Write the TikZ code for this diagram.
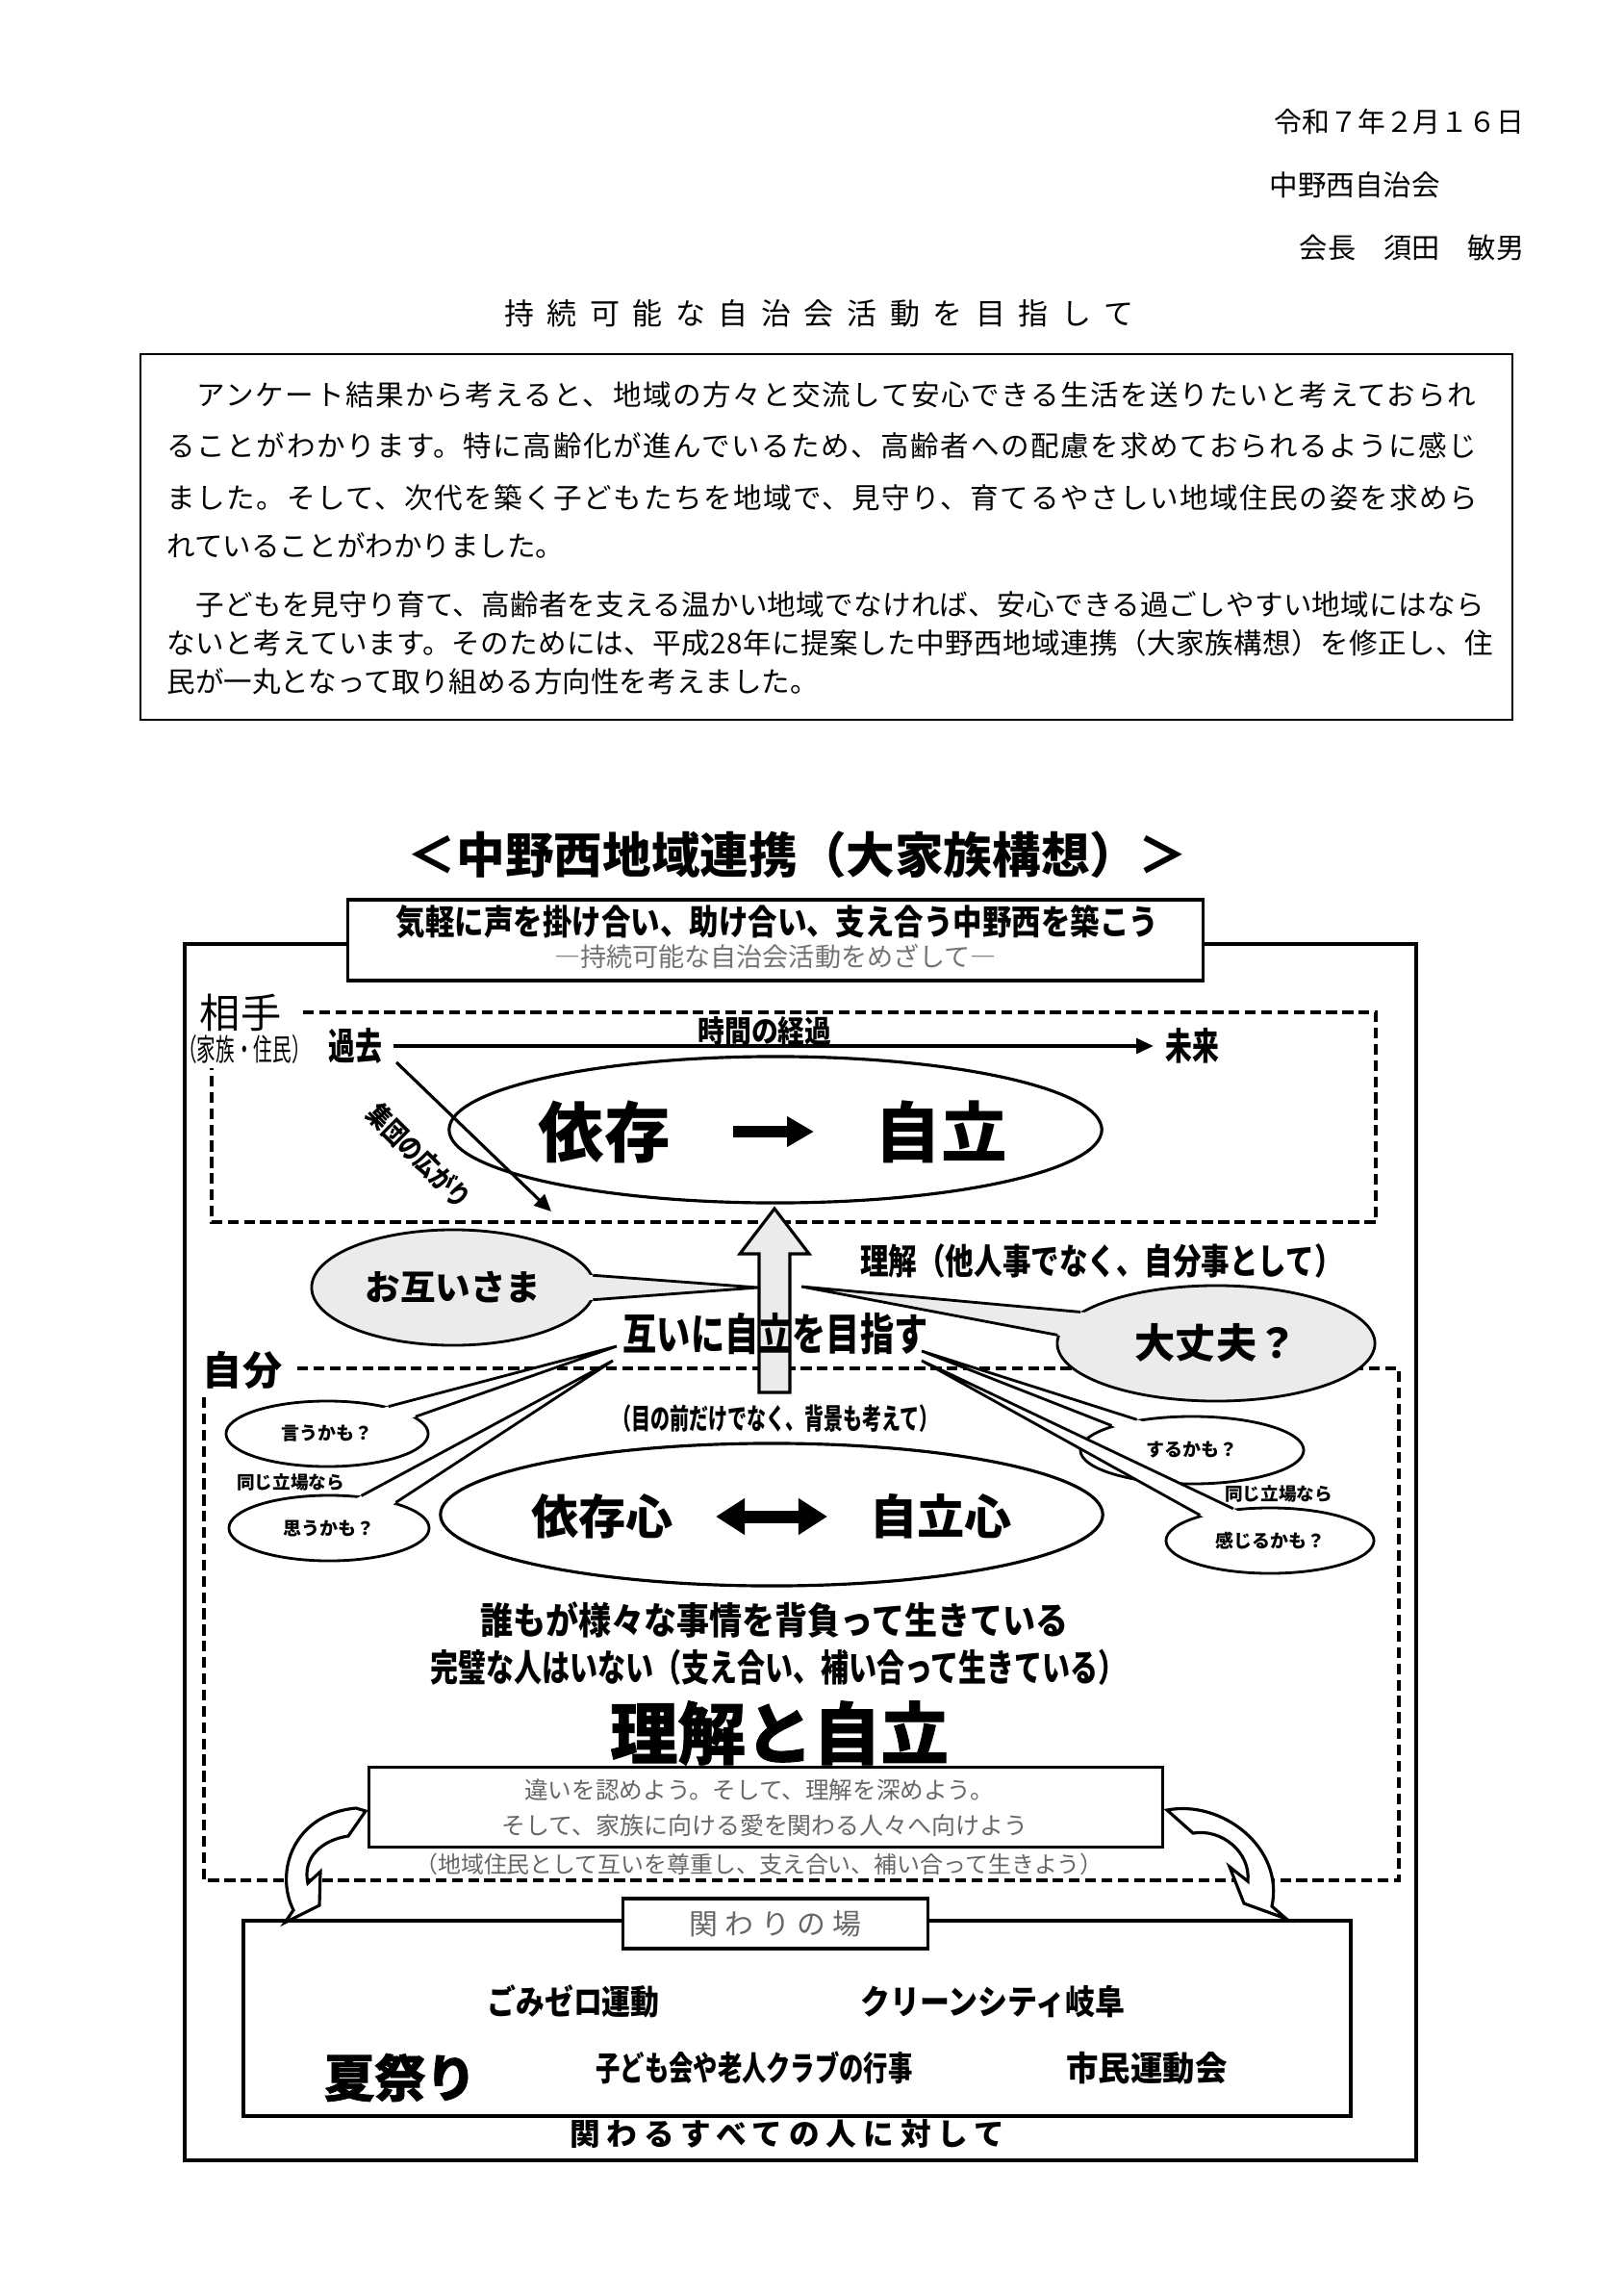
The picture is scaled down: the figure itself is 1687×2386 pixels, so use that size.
\documentclass[tikz,border=0pt]{standalone}
\usepackage{fontspec}
\usepackage{graphicx}
\usetikzlibrary{shapes.geometric,arrows.meta,calc}
\setmainfont{Noto Sans CJK JP}
\newfontfamily\heavyfont{Noto Sans CJK JP}[FakeBold=1.2]
\newcommand{\fsz}[1]{\fontsize{#1}{#1}\selectfont}
\newcommand{\squeeze}[2]{\scalebox{#1}[1]{#2}}
\tikzset{
  boxline/.style={draw,line width=0.9pt},
  dashbox/.style={draw,line width=0.9pt,dash pattern=on 3.2pt off 1.6pt},
  bubble/.style={ellipse,draw,line width=0.8pt,fill=white,inner sep=0pt},
  dotbubble/.style={bubble,fill=black!8},
  tail/.style={line width=0.8pt,line join=miter},
  gothic/.style={font=\bfseries\fsz{#1}},
  mincho/.style={font=\fsz{#1}},
  soft/.style={text=black!60},
  hollow/.style={draw,line width=0.9pt,fill=#1},
}
\begin{document}
\begin{tikzpicture}[x=0.01cm,y=-0.01cm]
\useasboundingbox (0,0) rectangle (1687,2386);
\fill[white] (0,0) rectangle (1687,2386);
% header
\node[mincho=8.2,anchor=east,inner sep=0pt] (date) at (1585,127) {令和７年２月１６日};
\node[mincho=8.4,anchor=west,inner sep=0pt] (assoc) at (1319,192) {中野西自治会};
\node[mincho=8.3,anchor=east,inner sep=0pt] (chair) at (1585,257) {会長　須田　敏男};
\node[mincho=8.8] (heading) at (851,326) {\addfontfeatures{LetterSpace=44}持続可能な自治会活動を目指して};
% introduction
\node[draw,line width=0.6pt,minimum width=14.25cm,minimum height=3.80cm] (intro) at (859,558) {};
\node[mincho=8.4,anchor=west,inner sep=0pt] (introA) at (173,410) {\addfontfeatures{LetterSpace=5.3}　アンケート結果から考えると、地域の方々と交流して安心できる生活を送りたいと考えておられ};
\node[mincho=8.4,anchor=west,inner sep=0pt] (introB) at (173,463) {\addfontfeatures{LetterSpace=5.3}ることがわかります。特に高齢化が進んでいるため、高齢者への配慮を求めておられるように感じ};
\node[mincho=8.4,anchor=west,inner sep=0pt] (introC) at (173,517) {\addfontfeatures{LetterSpace=5.3}ました。そして、次代を築く子どもたちを地域で、見守り、育てるやさしい地域住民の姿を求めら};
\node[mincho=8.4,anchor=west,inner sep=0pt] (introD) at (173,567) {れていることがわかりました。};
\node[mincho=8.4,anchor=west,inner sep=0pt] (introE) at (173,628) {\addfontfeatures{LetterSpace=1}　子どもを見守り育て、高齢者を支える温かい地域でなければ、安心できる過ごしやすい地域にはなら};
\node[mincho=8.4,anchor=west,inner sep=0pt] (introF) at (173,668) {\addfontfeatures{LetterSpace=1.5}ないと考えています。そのためには、平成28年に提案した中野西地域連携（大家族構想）を修正し、住};
\node[mincho=8.4,anchor=west,inner sep=0pt] (introG) at (173,708) {民が一丸となって取り組める方向性を考えました。};
% diagram title and frame
\node[gothic=14.4] (maptitle) at (829,888) {＜中野西地域連携（大家族構想）＞};
\draw[boxline,line width=1pt] (192,981) rectangle (1472,2245);
\node[boxline,fill=white,minimum width=8.89cm,minimum height=0.84cm] (motto) at (806,977) {};
\node[gothic=10.2] (mottoA) at (808,958) {\squeeze{0.85}{気軽に声を掛け合い、助け合い、支え合う中野西を築こう}};
\node[mincho=7.7,text=black!55] (mottoB) at (806,994) {―持続可能な自治会活動をめざして―};
% partner area
\draw[dashbox] (315,1052) -- (1430,1052) -- (1430,1270) -- (220,1270) -- (220,1110);
\node[mincho=12] (partner) at (250,1052) {相手};
\node[mincho=9] (partnerSub) at (254,1090) {\squeeze{0.62}{（家族・住民）}};
\node[gothic=11] (past) at (369,1087) {\squeeze{0.72}{過去}};
\node[gothic=11] (future) at (1239,1087) {\squeeze{0.72}{未来}};
\node[gothic=9] (elapse) at (795,1071) {\squeeze{0.88}{時間の経過}};
\draw[line width=0.9pt,-{Triangle[length=5pt,width=4.5pt]}] (past) -- (future);
\node[ellipse,draw,line width=0.9pt,minimum width=6.78cm,minimum height=1.52cm] (growth) at (806,1174) {};
\node[gothic=19.5] (depend) at (628,1176) {依存};
\node[gothic=19.5] (stand) at (978,1176) {自立};
\coordinate (growthA) at (762,1176);
\coordinate (growthB) at (846,1176);
\draw[line width=0.12cm,-{Triangle[length=0.28cm,width=0.30cm]}] (growthA) -- (growthB);
\coordinate (spreadS) at (412,1104);
\coordinate (spreadE) at (573,1259);
\draw[line width=0.9pt,-{Triangle[length=5pt,width=4.5pt]}] (spreadS) -- (spreadE);
\node[gothic=8,rotate=-45] (spread) at (436,1201) {\squeeze{0.82}{集団の広がり}};
% self area
\draw[dashbox] (309,1422) -- (1454,1422) -- (1454,1954) -- (212,1954) -- (212,1447);
\node[gothic=11.7] (self) at (252,1424) {自分};
% rising arrow
\draw[hollow=black!8] (789,1447) -- (789,1303) -- (769,1303) -- (805,1256) -- (841,1303) -- (821,1303) -- (821,1447) -- cycle;
% speech bubbles
\node[dotbubble,minimum width=2.94cm,minimum height=1.20cm,gothic=10.4] (mutualB) at (471,1338) {お互いさま};
\node[dotbubble,minimum width=3.30cm,minimum height=1.20cm,gothic=12] (okB) at (1264,1396) {大丈夫？};
\node[bubble,minimum width=2.10cm,minimum height=0.68cm,gothic=5.4] (sayB) at (340,1490) {言うかも？};
\node[bubble,minimum width=2.08cm,minimum height=0.68cm,gothic=5.4] (thinkB) at (342,1588) {思うかも？};
\node[bubble,minimum width=2.32cm,minimum height=0.70cm,gothic=5.4] (doB) at (1239,1507) {するかも？};
\node[bubble,minimum width=2.16cm,minimum height=0.68cm,gothic=5.4] (feelB) at (1320,1601) {感じるかも？};
\coordinate (tipO) at (788,1338);
\coordinate (tipOk) at (833,1337);
\coordinate (tipSay) at (641,1399);
\coordinate (tipThink) at (637,1414);
\coordinate (tipDo) at (958,1404);
\coordinate (tipFeel) at (958,1414);
\foreach \b/\p/\q/\t/\c in {mutualB/5/355/tipO/black!8,okB/167/177/tipOk/black!8,sayB/24/11/tipSay/white,thinkB/45/21/tipThink/white,doB/151/163/tipDo/white,feelB/160/139/tipFeel/white} {
  \fill[fill=\c] (\t) -- ($(\b.\p)!-3pt!(\t)$) -- ($(\b.\q)!-3pt!(\t)$) -- cycle;
  \draw[tail] (\b.\p) -- (\t) -- (\b.\q);
}
\node[gothic=10.5] (understand) at (1145,1310) {\squeeze{0.8}{理解（他人事でなく、自分事として）}};
\node[gothic=13] (mutual) at (806,1386) {\squeeze{0.77}{互いに自立を目指す}};
\node[gothic=8.5] (context) at (806,1474) {\squeeze{0.67}{（目の前だけでなく、背景も考えて）}};
\node[gothic=5.3] (sameL) at (302,1540) {同じ立場なら};
\node[gothic=5.3] (sameR) at (1329,1552) {同じ立場なら};
% mind ellipse
\node[ellipse,draw,line width=0.9pt,minimum width=6.88cm,minimum height=1.48cm] (mind) at (802,1574) {};
\node[gothic=14] (dependMind) at (626,1576) {依存心};
\node[gothic=14] (standMind) at (978,1576) {自立心};
\coordinate (mindA) at (744,1576);
\coordinate (mindB) at (860,1576);
\draw[line width=0.13cm,{Triangle[length=0.30cm,width=0.36cm]}-{Triangle[length=0.30cm,width=0.36cm]}] (mindA) -- (mindB);
% messages
\node[gothic=11] (burden) at (805,1683) {\squeeze{0.88}{誰もが様々な事情を背負って生きている}};
\node[gothic=11] (imperfect) at (809,1733) {\squeeze{0.75}{完璧な人はいない（支え合い、補い合って生きている）}};
\node[font=\heavyfont\bfseries\fsz{20}] (core) at (810,1801) {理解と自立};
\node[boxline,minimum width=8.24cm,minimum height=0.83cm] (respect) at (796,1878) {};
\node[mincho=7,soft] (respectA) at (789,1860) {違いを認めよう。そして、理解を深めよう。};
\node[mincho=7.1,soft] (respectB) at (795,1897) {そして、家族に向ける愛を関わる人々へ向けよう};
\node[mincho=6.8,soft] (respectC) at (789,1937) {（地域住民として互いを尊重し、支え合い、補い合って生きよう）};
% field of involvement
\draw[boxline] (253,1996) rectangle (1404,2199);
\draw[hollow=white] (380,1882) -- (362,1908) .. controls (335,1912) and (314,1930) .. (320,1957) -- (333,1945) -- (332,1980) -- (296,1998) -- (305,1985) .. controls (285,1945) and (305,1885) .. (370,1879) -- cycle;
\draw[hollow=white] (1213,1881) .. controls (1270,1870) and (1335,1920) .. (1322,1981) -- (1337,1994) -- (1293,1978) -- (1278,1940) -- (1297,1955) .. controls (1300,1925) and (1270,1900) .. (1240,1905) -- cycle;
\node[boxline,fill=white,minimum width=3.17cm,minimum height=0.52cm,mincho=8.5,soft] (fieldLabel) at (806,1999) {\addfontfeatures{LetterSpace=25}関わりの場};
\node[gothic=10] (zero) at (596,2080) {\squeeze{0.85}{ごみゼロ運動}};
\node[gothic=10] (clean) at (1032,2080) {\squeeze{0.88}{クリーンシティ岐阜}};
\node[font=\heavyfont\bfseries\fsz{15}] (summer) at (416,2159) {夏祭り};
\node[gothic=10] (kids) at (784,2149) {\squeeze{0.72}{子ども会や老人クラブの行事}};
\node[gothic=10] (sports) at (1192,2149) {\squeeze{0.95}{市民運動会}};
\node[gothic=9] (everyone) at (818,2217) {\addfontfeatures{LetterSpace=22}関わるすべての人に対して};
\end{tikzpicture}
\end{document}
